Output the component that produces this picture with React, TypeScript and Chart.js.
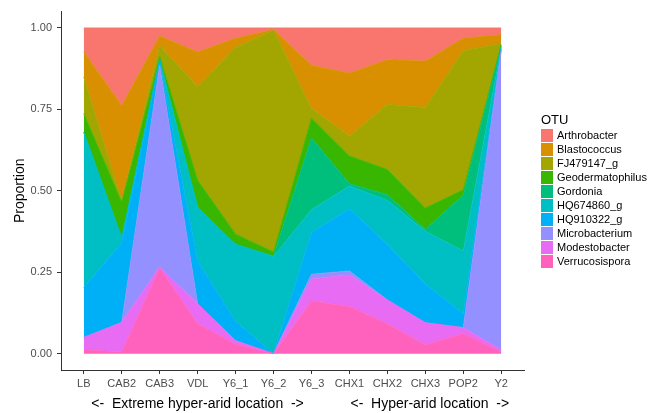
import React, { useEffect, useRef } from 'react';
import { Chart, registerables } from 'chart.js';

Chart.register(...registerables);

const categories = ['LB', 'CAB2', 'CAB3', 'VDL', 'Y6_1', 'Y6_2', 'Y6_3', 'CHX1', 'CHX2', 'CHX3', 'POP2', 'Y2'];
const yTicks = [0, 0.25, 0.5, 0.75, 1];

// legend order (top of stack first)
const otuNames = ['Arthrobacter', 'Blastococcus', 'FJ479147_g', 'Geodermatophilus', 'Gordonia', 'HQ674860_g', 'HQ910322_g', 'Microbacterium', 'Modestobacter', 'Verrucosispora'];
const otuColors = ['#F8766D', '#D89000', '#A3A500', '#39B600', '#00BF7D', '#00BFC4', '#00B0F6', '#9590FF', '#E76BF3', '#FF62BC'];

const arthrobacter = [0.073, 0.239, 0.025, 0.074, 0.032, 0.005, 0.115, 0.139, 0.098, 0.102, 0.032, 0.021];
const blastococcus = [0.077, 0.293, 0.030, 0.106, 0.028, 0.002, 0.132, 0.193, 0.137, 0.142, 0.038, 0.027];
const fj479147 = [0.113, 0.003, 0.033, 0.288, 0.573, 0.681, 0.030, 0.061, 0.200, 0.309, 0.427, 0.004];
const geodermatophilus = [0.057, 0.109, 0.007, 0.082, 0.031, 0.012, 0.061, 0.085, 0.077, 0.066, 0.016, 0.003];
const gordonia = [0.000, 0.000, 0.005, 0.000, 0.000, 0.002, 0.220, 0.007, 0.018, 0.005, 0.172, 0.005];
const hq674860 = [0.477, 0.016, 0.005, 0.166, 0.236, 0.298, 0.071, 0.070, 0.135, 0.162, 0.192, 0.005];
const hq910322 = [0.153, 0.244, 0.010, 0.131, 0.060, 0.000, 0.127, 0.191, 0.170, 0.119, 0.043, 0.003];
const microbacterium = [0.000, 0.000, 0.619, 0.000, 0.000, 0.000, 0.015, 0.012, 0.000, 0.000, 0.000, 0.920];
const modestobacter = [0.038, 0.091, 0.002, 0.061, 0.010, 0.000, 0.067, 0.097, 0.073, 0.068, 0.018, 0.007];
const verrucosispora = [0.012, 0.005, 0.264, 0.092, 0.030, 0.000, 0.162, 0.145, 0.092, 0.027, 0.062, 0.005];

const seriesByName: Record<string, number[]> = {
  Arthrobacter: arthrobacter,
  Blastococcus: blastococcus,
  FJ479147_g: fj479147,
  Geodermatophilus: geodermatophilus,
  Gordonia: gordonia,
  HQ674860_g: hq674860,
  HQ910322_g: hq910322,
  Microbacterium: microbacterium,
  Modestobacter: modestobacter,
  Verrucosispora: verrucosispora,
};

const xTitle = '    <-  Extreme hyper-arid location  ->            <-  Hyper-arid location  ->';
const FONT = '"Liberation Sans", Arial, sans-serif';

export default function App() {
  const ref = useRef<HTMLCanvasElement | null>(null);

  useEffect(() => {
    if (!ref.current) return;
    const stackOrder = [...otuNames].reverse(); // bottom first
    const datasets = stackOrder.map((name, i) => {
      const color = otuColors[otuNames.indexOf(name)];
      return {
        label: name,
        data: seriesByName[name].map((v, j) => ({ x: j, y: v })),
        backgroundColor: color,
        borderColor: color,
        borderWidth: 0.8,
        pointRadius: 0,
        fill: i === 0 ? 'origin' : '-1',
        tension: 0,
      };
    });

    const axisGrid = {
      drawOnChartArea: false,
      drawTicks: true,
      tickLength: 4,
      color: '#333333',
      lineWidth: 1,
    };

    const chart = new Chart(ref.current, {
      type: 'line',
      data: { datasets: datasets as any },
      options: {
        animation: false,
        responsive: false,
        devicePixelRatio: 1,
        layout: { padding: { top: 10, right: 126, bottom: 0, left: 0 } },
        plugins: {
          legend: { display: false },
          tooltip: { enabled: false },
        },
        elements: { line: { borderJoinStyle: 'miter' } },
        scales: {
          x: {
            type: 'linear',
            min: -0.6,
            max: 11.6,
            afterBuildTicks: (s: any) => {
              s.ticks = categories.map((_, i) => ({ value: i }));
            },
            afterFit: (s: any) => {
              s.height = 43;
            },
            ticks: {
              autoSkip: false,
              maxRotation: 0,
              padding: 3,
              color: '#4D4D4D',
              font: { family: FONT, size: 11 },
              callback: (v: any) => categories[v as number] ?? '',
            },
            grid: axisGrid,
            border: { display: true, color: '#333333', width: 1 },
            title: {
              display: true,
              text: xTitle,
              color: '#000000',
              font: { family: FONT, size: 14 },
              padding: { top: 0, bottom: 0 },
            },
          },
          y: {
            type: 'linear',
            stacked: true,
            min: -0.05,
            max: 1.05,
            afterBuildTicks: (s: any) => {
              s.ticks = yTicks.map((v) => ({ value: v }));
            },
            afterFit: (s: any) => {
              s.width = 61;
            },
            ticks: {
              padding: 5,
              color: '#4D4D4D',
              font: { family: FONT, size: 11 },
              callback: (v: any) => Number(v).toFixed(2),
            },
            grid: axisGrid,
            border: { display: true, color: '#333333', width: 1 },
            title: {
              display: true,
              text: 'Proportion',
              color: '#000000',
              font: { family: FONT, size: 14 },
              padding: { top: 12, bottom: 0 },
            },
          },
        },
      } as any,
    });
    return () => chart.destroy();
  }, []);

  return (
    <div style={{ position: 'fixed', left: 0, top: 0, width: 650, height: 413, background: '#fff', fontFamily: FONT }}>
      <canvas ref={ref} width={650} height={413} style={{ position: 'absolute', left: 0, top: 0, width: 650, height: 413 }} />
      <div style={{ position: 'absolute', left: 541, top: 112, fontSize: 13, lineHeight: '15px', color: '#000' }}>OTU</div>
      {otuNames.map((name, i) => (
        <div key={name} style={{ position: 'absolute', left: 541, top: 128 + i * 14, height: 14, display: 'flex', alignItems: 'center', whiteSpace: 'nowrap' }}>
          <div style={{ width: 12, height: 13, background: otuColors[i] }} />
          <span style={{ marginLeft: 4, fontSize: 11, lineHeight: '14px', color: '#000' }}>{name}</span>
        </div>
      ))}
    </div>
  );
}
